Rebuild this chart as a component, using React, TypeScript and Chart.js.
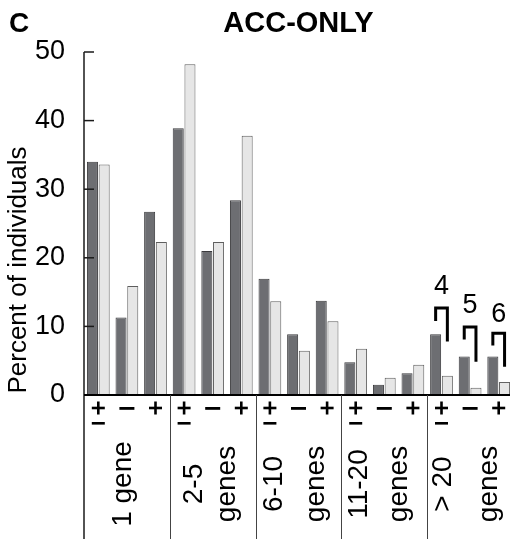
import React, { useEffect, useRef } from "react";
import { Chart, registerables } from "chart.js";

Chart.register(...registerables);

// ---- data ----
const groupLabels: string[][] = [
  ["1 gene"],
  ["2-5", "genes"],
  ["6-10", "genes"],
  ["11-20", "genes"],
  ["> 20", "genes"],
];
const subgroupLabels = ["±", "–", "+"];
const categories = groupLabels.flatMap((g) => subgroupLabels.map((s) => `${g.join(" ")} ${s}`));
const darkValues = [34.0, 11.3, 26.7, 38.9, 21.0, 28.4, 16.95, 8.85, 13.75, 4.76, 1.5, 3.16, 8.85, 5.6, 5.6];
const lightValues = [33.6, 15.9, 22.3, 48.2, 22.3, 37.8, 13.65, 6.46, 10.74, 6.75, 2.53, 4.42, 2.8, 1.07, 1.9];
const yTicks = [0, 10, 20, 30, 40, 50];
const bracketLabels = ["4", "5", "6"];
const bracketCategories = [12, 13, 14];
const bracketTop = [12.7, 9.9, 9.0];
const bracketLeftEnd = [10.8, 8.1, 7.2];
const bracketRightEnd = [7.8, 4.85, 4.1];
const bracketLabelValue = [15.85, 13.0, 11.66];
const chartTitle = "ACC-ONLY";
const panelLetter = "C";
const yTitle = "Percent of individuals";

// ---- style ----
const FONT = "'Liberation Sans', Arial, Helvetica, sans-serif";
const groupLineOffsets = [[-4], [-18, 15], [-24, 18], [-25, 15], [-27, 19]];

function drawPlus(ctx: CanvasRenderingContext2D, cx: number, cy: number) {
  const w = 13;
  const t = 2.6;
  ctx.fillRect(cx - w / 2, cy - t / 2, w, t);
  ctx.fillRect(cx - t / 2, cy - w / 2, t, w);
}

const overlay = {
  id: "overlay",
  afterDraw(chart: any) {
    const ctx = chart.ctx as CanvasRenderingContext2D;
    const { left, right, top, bottom } = chart.chartArea;
    const ys = chart.scales.y;
    const H = chart.height;
    const nGroups = groupLabels.length;
    const groupW = (right - left) / nGroups;
    const catW = groupW / subgroupLabels.length;
    ctx.save();
    ctx.fillStyle = "#000";
    ctx.strokeStyle = "#1a1a1a";

    // y axis line (extends through label area)
    ctx.lineWidth = 1.5;
    ctx.beginPath();
    ctx.moveTo(left, top);
    ctx.lineTo(left, H);
    ctx.stroke();
    // inward ticks
    yTicks.forEach((v) => {
      const py = ys.getPixelForValue(v);
      ctx.beginPath();
      ctx.moveTo(left, py);
      ctx.lineTo(left + 10, py);
      ctx.stroke();
    });
    // x axis line
    ctx.lineWidth = 2;
    ctx.strokeStyle = "#000";
    ctx.beginPath();
    ctx.moveTo(left, bottom);
    ctx.lineTo(right, bottom);
    ctx.stroke();
    // group dividers
    ctx.lineWidth = 1;
    ctx.strokeStyle = "#444";
    for (let g = 1; g <= nGroups; g++) {
      const x = Math.round(left + g * groupW) + 0.5;
      ctx.beginPath();
      ctx.moveTo(x, bottom);
      ctx.lineTo(x, H);
      ctx.stroke();
    }

    // subgroup labels
    for (let g = 0; g < nGroups; g++) {
      subgroupLabels.forEach((s, si) => {
        const cx = left + g * groupW + (si + 0.5) * catW;
        if (s === "±") {
          drawPlus(ctx, cx, bottom + 13);
          ctx.fillRect(cx - 6.5, bottom + 27, 13, 2.6);
        } else if (s === "+") {
          drawPlus(ctx, cx, bottom + 13);
        } else {
          ctx.fillRect(cx - 7.5, bottom + 12, 15, 2.8);
        }
      });
    }

    // group labels (rotated)
    ctx.font = `28px ${FONT}`;
    groupLabels.forEach((lines, g) => {
      const gc = left + (g + 0.5) * groupW;
      lines.forEach((ln, li) => {
        ctx.save();
        ctx.translate(gc + groupLineOffsets[g][li], 484);
        ctx.rotate(-Math.PI / 2);
        ctx.textAlign = "center";
        ctx.textBaseline = "middle";
        ctx.fillText(ln, 0, 0);
        ctx.restore();
      });
    });

    // brackets
    const m0 = chart.getDatasetMeta(0);
    const m1 = chart.getDatasetMeta(1);
    ctx.lineWidth = 3;
    ctx.strokeStyle = "#000";
    ctx.lineJoin = "miter";
    ctx.font = `27px ${FONT}`;
    bracketCategories.forEach((ci, i) => {
      const xl = m0.data[ci].x;
      const xr = m1.data[ci].x;
      const yt = ys.getPixelForValue(bracketTop[i]);
      ctx.beginPath();
      ctx.moveTo(xl, ys.getPixelForValue(bracketLeftEnd[i]));
      ctx.lineTo(xl, yt);
      ctx.lineTo(xr, yt);
      ctx.lineTo(xr, ys.getPixelForValue(bracketRightEnd[i]));
      ctx.stroke();
      ctx.textAlign = "center";
      ctx.textBaseline = "middle";
      ctx.fillText(bracketLabels[i], (xl + xr) / 2, ys.getPixelForValue(bracketLabelValue[i]));
    });

    // title + panel letter
    ctx.font = `bold 29px ${FONT}`;
    ctx.textAlign = "center";
    ctx.textBaseline = "middle";
    ctx.fillText(chartTitle, (left + right) / 2, 24);
    ctx.font = `bold 28px ${FONT}`;
    ctx.textAlign = "left";
    ctx.fillText(panelLetter, 9, 24);

    // y title
    ctx.font = `26px ${FONT}`;
    ctx.save();
    ctx.translate(19, 270);
    ctx.rotate(-Math.PI / 2);
    ctx.textAlign = "center";
    ctx.textBaseline = "middle";
    ctx.fillText(yTitle, 0, 0);
    ctx.restore();

    ctx.restore();
  },
};

export default function App() {
  const ref = useRef<HTMLCanvasElement | null>(null);
  useEffect(() => {
    if (!ref.current) return;
    const chart = new Chart(ref.current, {
      type: "bar",
      data: {
        labels: categories,
        datasets: [
          {
            data: darkValues,
            backgroundColor: "#6d6e72",
            borderColor: "#3a3a3d",
            borderWidth: 1,
            categoryPercentage: 0.82,
            barPercentage: 0.94,
          },
          {
            data: lightValues,
            backgroundColor: "#e6e6e6",
            borderColor: "#5e5e5e",
            borderWidth: 1,
            categoryPercentage: 0.82,
            barPercentage: 0.94,
          },
        ],
      },
      options: {
        responsive: false,
        animation: false,
        devicePixelRatio: 1,
        layout: { padding: { top: 52, bottom: 144, left: 0, right: 1 } },
        plugins: {
          legend: { display: false },
          tooltip: { enabled: false },
          title: { display: false },
        },
        scales: {
          x: { display: false },
          y: {
            min: 0,
            max: 50,
            ticks: {
              stepSize: 10,
              padding: 11,
              color: "#000",
              font: { size: 27, family: FONT },
            },
            grid: { display: false },
            border: { display: false },
            afterFit: (s: any) => {
              s.width = 84;
            },
          },
        },
      },
      plugins: [overlay],
    });
    return () => chart.destroy();
  }, []);
  return (
    <div
      style={{
        position: "fixed",
        left: 0,
        top: 0,
        width: 510,
        height: 539,
        overflow: "hidden",
        background: "#fff",
      }}
    >
      <canvas ref={ref} width={514} height={539} style={{ display: "block" }} />
    </div>
  );
}
